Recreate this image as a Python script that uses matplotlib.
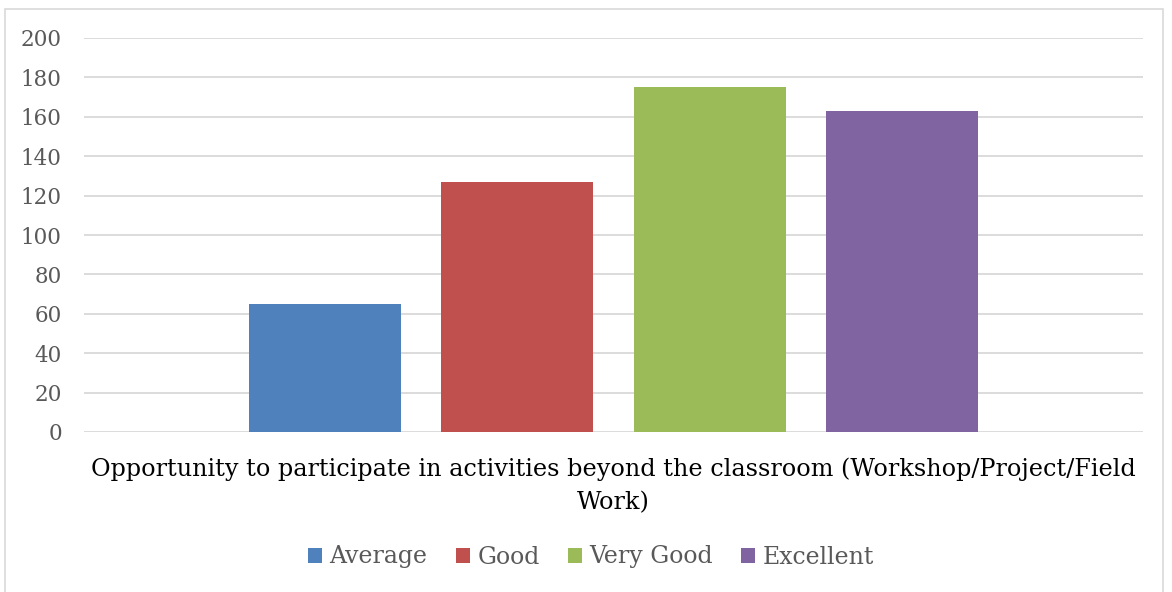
import matplotlib.pyplot as plt
from matplotlib.patches import Patch, Rectangle

# data
series = ["Average", "Good", "Very Good", "Excellent"]
values = [65, 127, 175, 163]
colors = ["#4f81bd", "#c0504d", "#9bbb59", "#8064a2"]
yticks = [0, 20, 40, 60, 80, 100, 120, 140, 160, 180, 200]
title = "Opportunity to participate in activities beyond the classroom (Workshop/Project/Field\nWork)"

W, H = 1172, 592
plt.rcParams["font.family"] = ["DejaVu Serif"]

fig = plt.figure(figsize=(W / 100, H / 100), dpi=100)
ax = fig.add_axes([84 / W, 1 - 432 / H, (1143 - 84) / W, (432 - 38) / H])

# chart border (bottom edge falls outside the image)
fig.patches.append(Rectangle((5 / W, -0.05), (1163 - 5) / W, 1.05 - 9 / H, transform=fig.transFigure,
                             fill=False, edgecolor="#d9d9d9", linewidth=1.2))

bar_w = 152 / 1059
step = 192.5 / 1059
for i, (name, v, c) in enumerate(zip(series, values, colors)):
    ax.bar((i - 1.5) * step, v, width=bar_w, color=c, zorder=3)

ax.set_xlim(-0.5, 0.5)
ax.set_ylim(0, 200)
ax.set_yticks(yticks)
ax.set_xticks([])
ax.grid(axis="y", color="#d9d9d9", linewidth=1.3, zorder=0)
ax.tick_params(axis="y", length=0, pad=16, labelsize=15.5, labelcolor="#595959")
for s in ax.spines.values():
    s.set_visible(False)

fig.text(613.5 / W, 1 - 486 / H, title, ha="center", va="center", fontsize=17.2,
         color="black", linespacing=1.55)

handles = [Patch(facecolor=c, label=n) for n, c in zip(series, colors)]
leg = fig.legend(handles=handles, loc="center", bbox_to_anchor=(591 / W, 1 - 557 / H), ncol=4,
                 frameon=False, fontsize=17, handlelength=0.6, handleheight=0.6,
                 handletextpad=0.3, columnspacing=1.2)
for t in leg.get_texts():
    t.set_color("#595959")

fig.savefig("out.png", dpi=100)
